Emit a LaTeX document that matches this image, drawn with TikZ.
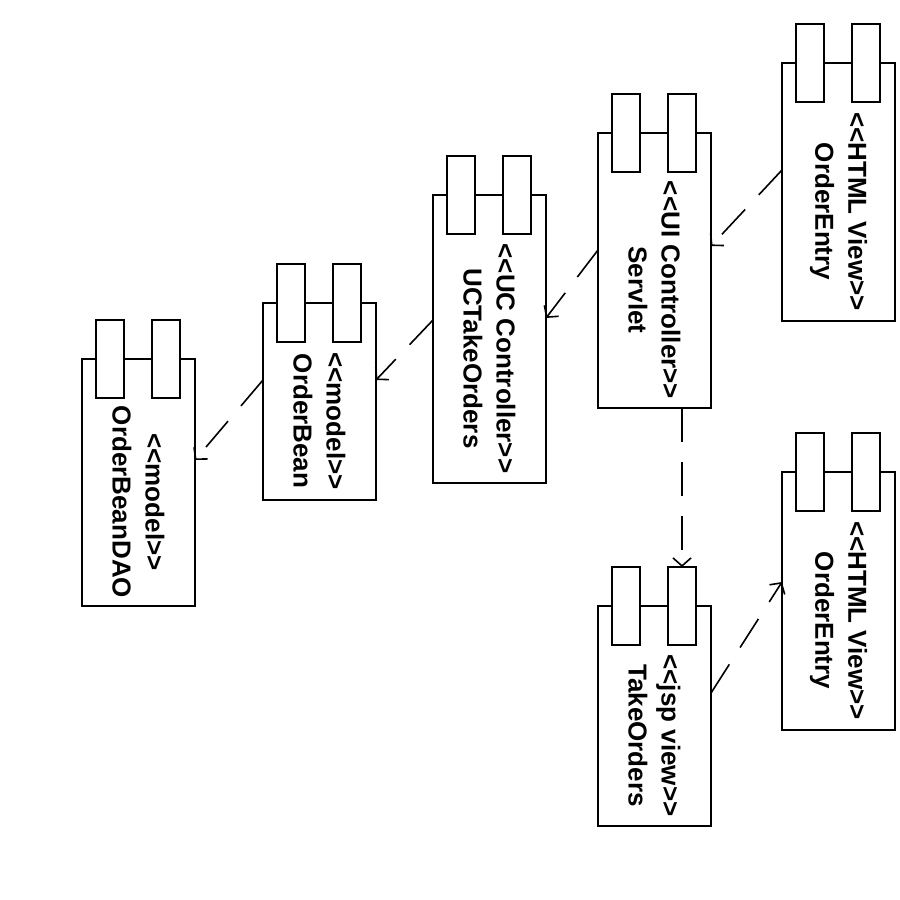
\documentclass[tikz,border=0pt]{standalone}
\usepackage{fontspec}
\newfontfamily\lblfont{Liberation Sans}
\usetikzlibrary{arrows.meta,calc}

% stereotype brackets kept as two separate "<" / ">" characters
\newcommand\stereo[1]{<\kern0pt<#1>\kern0pt>}

\tikzset{
  body/.style={draw, line width=1.8pt, fill=white, minimum width=113pt,
               inner sep=0pt, outer sep=0pt},
  tabbox/.style={draw, line width=1.8pt, fill=white, minimum width=28pt,
                 minimum height=78pt, inner sep=0pt, outer sep=0pt},
  label/.style={rotate=-90, align=center, inner sep=0pt,
                font=\lblfont\bfseries\fontsize{26}{33}\selectfont},
  dep/.style={line width=1.6pt, dash pattern=on 34pt off 20pt,
              -{Straight Barb[length=8pt,width=18pt,line width=1.6pt]}}
}

% #1 name, #2 left x, #3 top y, #4 height, #5 stereotype, #6 name text
\newcommand\comp[6]{%
  \node[body, minimum height=#4pt, anchor=north west] (#1) at (#2,#3) {};
  \node[tabbox, anchor=north west] (#1-t1) at (#2+14,#3-39) {};
  \node[tabbox, anchor=north west] (#1-t2) at (#2+70,#3-39) {};
  \node[label] (#1-txt) at ($(#1.south)!0.5!(#1.south |- #1-t1.south)$)
    {\stereo{#5}\\#6};
}

\begin{document}
\begin{tikzpicture}[x=1pt,y=-1pt]
  \useasboundingbox[fill=white] (0,0) rectangle (900,900);

  \comp{ho}{782}{63}{258}{HTML View}{OrderEntry}
  \comp{ui}{598}{133}{275}{UI Controller}{Servlet}
  \comp{uc}{433}{195}{288}{UC Controller}{UCTakeOrders}
  \comp{ob}{263}{303}{197}{model}{OrderBean}
  \comp{dao}{82}{359}{247}{model}{OrderBeanDAO}
  \comp{jsp}{598}{606}{220}{jsp view}{TakeOrders}
  \comp{ho2}{782}{472}{258}{HTML View}{OrderEntry}

  % dependencies
  \draw[dep] ([yshift=-107pt]ho.north west) -- ([yshift=-113pt]ui.north east);
  \draw[dep] ([yshift=-117pt]ui.north west) -- ([yshift=-123pt]uc.north east);
  \draw[dep] ([yshift=-125pt]uc.north west) -- ([yshift=-77pt]ob.north east);
  \draw[dep] ([yshift=-77pt]ob.north west) -- ([yshift=-101pt]dao.north east);
  \draw[dep] (ui.south -| jsp-t2.north) -- (jsp-t2.north);
  \draw[dep] ([yshift=-87pt]jsp.north east) -- ([yshift=-110pt]ho2.north west);
\end{tikzpicture}
\end{document}
